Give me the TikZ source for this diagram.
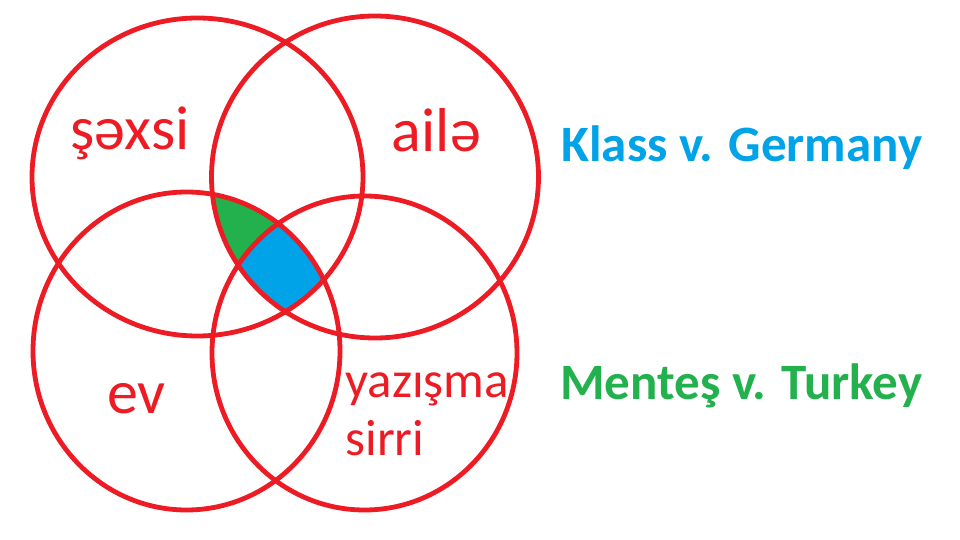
\documentclass[tikz,border=0pt]{standalone}
\usepackage{fontspec}
\setmainfont{Carlito}
\definecolor{vred}{HTML}{ED1C24}
\definecolor{vgreen}{HTML}{22B14C}
\definecolor{vblue}{HTML}{00A2E8}

\begin{document}
\begin{tikzpicture}[x=0.5pt,y=-0.5pt,
	ring/.style={draw=vred,line width=2.4pt},
	word/.style={text=vred,inner sep=0pt,anchor=base,font=\fontsize{31}{37}\selectfont},
	case/.style={inner sep=0pt,anchor=base west,font=\bfseries\fontsize{25.5}{30}\selectfont},
	tlsize/.style={x radius=82.75pt,y radius=79.5pt},
	trsize/.style={x radius=81.75pt,y radius=80.5pt},
	blsize/.style={x radius=76.75pt,y radius=79.5pt},
	brsize/.style={x radius=76.25pt,y radius=78.5pt}]
	\useasboundingbox (0,0) rectangle (960,540);
	\coordinate (tl) at (197.5,177);
	\coordinate (tr) at (375,177);
	\coordinate (bl) at (186.5,351);
	\coordinate (br) at (364.5,353);
	% shared parts
	\begin{scope}
		\clip (tl) ellipse [tlsize];
		\clip (tr) ellipse [trsize];
		\clip (bl) ellipse [blsize];
		\fill[vgreen] (0,0) rectangle (960,540);
		\fill[vblue] (br) ellipse [brsize];
	\end{scope}
	\draw[ring] (tl) ellipse [tlsize];
	\draw[ring] (tr) ellipse [trsize];
	\draw[ring] (bl) ellipse [blsize];
	\draw[ring] (br) ellipse [brsize];
	\node[word] (sexsi) at (130,150) {şəxsi};
	\node[word] (aile) at (436.5,152) {ailə};
	\node[word] (ev) at (136.5,413) {ev};
	\node[word,anchor=base west,align=left,font=\fontsize{25.5}{29}\selectfont] (yazisma) at (345,455) {yazışma\\sirri};
	\node[case,text=vblue] (klass) at (561,162) {Klass v. Germany};
	\node[case,text=vgreen] (mentes) at (560,400) {Menteş v. Turkey};
\end{tikzpicture}
\end{document}
